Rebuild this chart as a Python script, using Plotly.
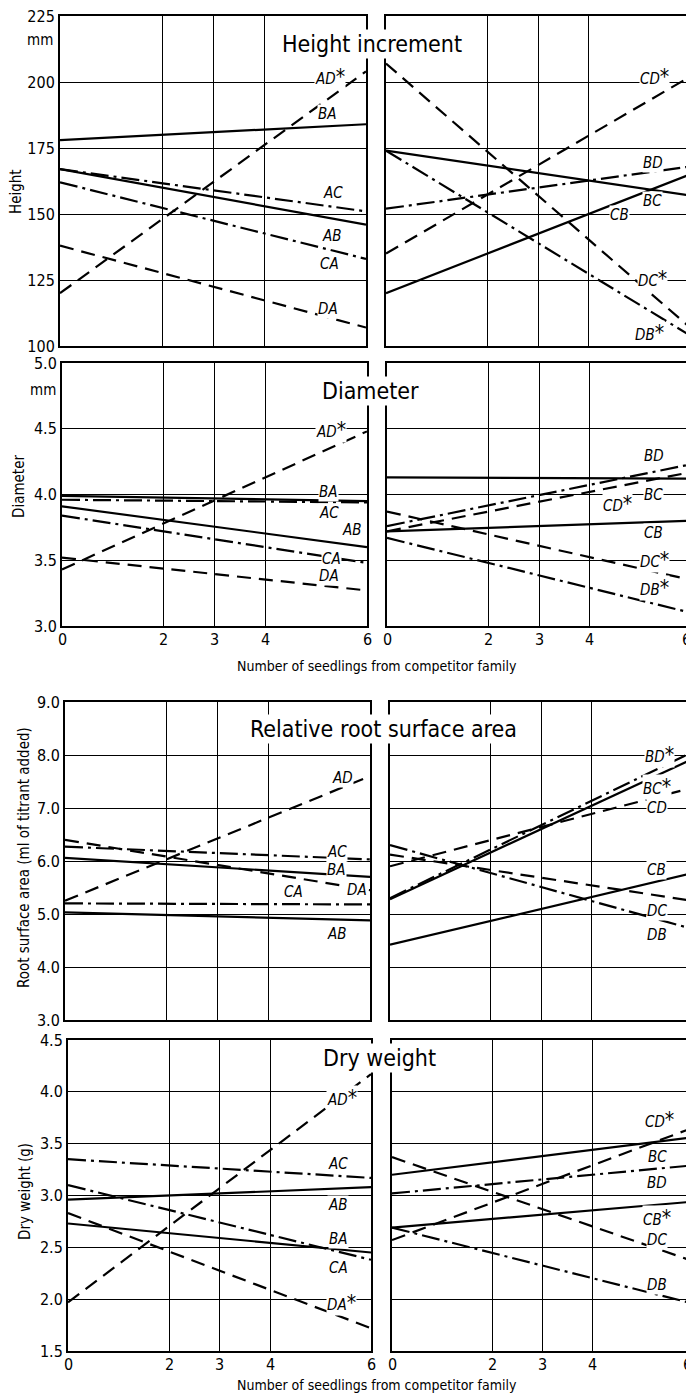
import plotly.graph_objects as go

# page window is 694x1399; the page body keeps an 8px margin, so the figure
# itself is drawn 8px in from the top-left corner
PAGE_W, PAGE_H, OFF = 694, 1399, 8
W, H = PAGE_W - OFF, PAGE_H - OFF
FONT = "Liberation Sans Narrow, DejaVu Sans Condensed, Arial Narrow, sans-serif"

# ---------------- data ----------------
x_counts = [0, 6]
x_tick_vals = [0, 2, 3, 4, 6]
x_tick_text = ["0", "2", "3", "4", "6"]

# Height increment (mm)
height_left_names = ["BA", "AD*", "AC", "AB", "CA", "DA"]
height_left_start = [178, 120, 167, 167, 162, 138]
height_left_end = [184, 204, 151, 146, 133, 107]
height_right_names = ["CD*", "BD", "BC", "CB", "DC*", "DB*"]
height_right_start = [135, 152, 174, 120, 207, 174]
height_right_end = [202, 168, 157, 165, 107, 104]

# Diameter (mm)
diam_left_names = ["AD*", "BA", "AC", "AB", "CA", "DA"]
diam_left_start = [3.43, 3.99, 3.96, 3.91, 3.84, 3.52]
diam_left_end = [4.48, 3.95, 3.94, 3.60, 3.48, 3.27]
diam_right_names = ["BD", "CD*", "BC", "CB", "DC*", "DB*"]
diam_right_start = [3.76, 3.72, 4.13, 3.72, 3.87, 3.67]
diam_right_end = [4.23, 4.17, 4.12, 3.80, 3.35, 3.10]

# Relative root surface area (ml of titrant added)
root_left_names = ["AD", "AC", "BA", "DA", "CA", "AB"]
root_left_start = [5.25, 6.27, 6.06, 6.40, 5.20, 5.03]
root_left_end = [7.60, 6.03, 5.70, 5.45, 5.18, 4.88]
root_right_names = ["BD*", "BC*", "CD", "CB", "DC", "DB"]
root_right_start = [5.30, 5.28, 5.90, 4.42, 6.12, 6.30]
root_right_end = [8.05, 7.92, 7.38, 5.77, 5.25, 4.72]

# Dry weight (g)
dry_left_names = ["AD*", "AC", "AB", "BA", "CA", "DA*"]
dry_left_start = [1.97, 3.35, 2.96, 2.73, 3.10, 2.83]
dry_left_end = [4.17, 3.17, 3.08, 2.45, 2.38, 1.72]
dry_right_names = ["CD*", "BC", "BD", "CB*", "DC", "DB"]
dry_right_start = [2.57, 3.20, 3.02, 2.69, 3.37, 2.69]
dry_right_end = [3.65, 3.56, 3.29, 2.94, 2.37, 1.96]

# tick labels
height_ticks = [100, 125, 150, 175, 200, 225]
diam_ticks = [3.0, 3.5, 4.0, 4.5, 5.0]
root_ticks = [3, 4, 5, 6, 7, 8, 9]
dry_ticks = [1.5, 2.0, 2.5, 3.0, 3.5, 4.0, 4.5]

# ---------------- label placement (x, y in data units) ----------------
height_left_label_xy = [(5.25, 188), (5.3, 202), (5.35, 158), (5.33, 141.5), (5.29, 131), (5.25, 114)]
height_right_label_xy = [(5.3, 202), (5.27, 169.5), (5.25, 155), (4.6, 149.5), (5.25, 125.5), (5.2, 105)]
diam_left_label_xy = [(5.3, 4.49), (5.25, 4.02), (5.25, 3.86), (5.7, 3.73), (5.3, 3.51), (5.25, 3.38)]
diam_right_label_xy = [(5.27, 4.29), (4.55, 3.93), (5.25, 4.0), (5.25, 3.71), (5.27, 3.5), (5.27, 3.29)]
root_left_label_xy = [(5.45, 7.57), (5.35, 6.17), (5.35, 5.83), (5.75, 5.45), (4.5, 5.42), (5.35, 4.62)]
root_right_label_xy = [(5.35, 8.0), (5.3, 7.4), (5.3, 7.0), (5.3, 5.83), (5.3, 5.05), (5.3, 4.6)]
dry_left_label_xy = [(5.42, 3.94), (5.35, 3.30), (5.35, 2.91), (5.35, 2.58), (5.35, 2.30), (5.42, 1.96)]
dry_right_label_xy = [(5.34, 3.73), (5.3, 3.37), (5.3, 3.12), (5.3, 2.78), (5.3, 2.57), (5.3, 2.14)]

panels = [
    (height_left_names, height_left_start, height_left_end, height_left_label_xy),
    (height_right_names, height_right_start, height_right_end, height_right_label_xy),
    (diam_left_names, diam_left_start, diam_left_end, diam_left_label_xy),
    (diam_right_names, diam_right_start, diam_right_end, diam_right_label_xy),
    (root_left_names, root_left_start, root_left_end, root_left_label_xy),
    (root_right_names, root_right_start, root_right_end, root_right_label_xy),
    (dry_left_names, dry_left_start, dry_left_end, dry_left_label_xy),
    (dry_right_names, dry_right_start, dry_right_end, dry_right_label_xy),
]

# panel frames in page pixels
rows = [
    dict(rng=[100, 225], ticks=height_ticks, fmt="{:.0f}", top=16, bottom=346,
         cols=[(60, 366), (386, 690)], xlabels=False),
    dict(rng=[3.0, 5.0], ticks=diam_ticks, fmt="{:.1f}", top=363, bottom=626,
         cols=[(62, 367), (387, 691)], xlabels=True),
    dict(rng=[3.0, 9.0], ticks=root_ticks, fmt="{:.1f}", top=702, bottom=1020,
         cols=[(65, 370), (390, 692)], xlabels=False),
    dict(rng=[1.5, 4.5], ticks=dry_ticks, fmt="{:.1f}", top=1040, bottom=1351,
         cols=[(68, 371), (392, 692)], xlabels=True),
]

DASH = {
    frozenset("AB"): "solid", frozenset("BC"): "solid",
    frozenset("AC"): "18px,5px,3px,5px", frozenset("BD"): "18px,5px,3px,5px",
    frozenset("AD"): "14px,8px", frozenset("CD"): "14px,8px",
}


def px_x(p):
    return (p - OFF) / W


def px_y(p):
    return 1 - (p - OFF) / H


fig = go.Figure()
layout = dict(width=W, height=H, margin=dict(l=0, r=0, t=0, b=0),
              paper_bgcolor="white", plot_bgcolor="white", showlegend=False,
              font=dict(family=FONT, color="black", size=16))
annotations = []

for i, (names, start, end, label_xy) in enumerate(panels):
    r, c = divmod(i, 2)
    row = rows[r]
    n = i + 1
    xa = "xaxis" if n == 1 else f"xaxis{n}"
    ya = "yaxis" if n == 1 else f"yaxis{n}"
    xr = "x" if n == 1 else f"x{n}"
    yr = "y" if n == 1 else f"y{n}"
    x0, x1 = row["cols"][c]
    layout[xa] = dict(
        domain=[px_x(x0), min(px_x(x1), 1.0)], anchor=yr, range=[0, 6],
        tickvals=x_tick_vals, ticktext=x_tick_text,
        showticklabels=False, ticks="",
        showgrid=True, gridcolor="black", gridwidth=1, zeroline=False,
        showline=True, mirror=True, linecolor="black", linewidth=2,
        automargin=False,
    )
    layout[ya] = dict(
        domain=[px_y(row["bottom"]), px_y(row["top"])], anchor=xr, range=row["rng"],
        tickvals=row["ticks"], ticktext=[row["fmt"].format(t) for t in row["ticks"]],
        showticklabels=(c == 0), ticks="", ticklabeloverflow="allow",
        showgrid=True, gridcolor="black", gridwidth=1, zeroline=False,
        showline=True, mirror=True, linecolor="black", linewidth=2,
        tickfont=dict(size=16, family=FONT), automargin=False,
    )
    if row["xlabels"]:
        for tv, tt in zip(x_tick_vals, x_tick_text):
            last = (c == 1 and tv == x_tick_vals[-1])
            annotations.append(dict(x=tv, y=px_y(row["bottom"] + 2), xref=xr, yref="paper",
                                    text=tt, showarrow=False,
                                    xanchor="right" if last else "center", yanchor="top",
                                    xshift=2 if last else 0,
                                    font=dict(size=16, family=FONT, color="black")))
    for name, s, e, (lx, ly) in zip(names, start, end, label_xy):
        code = name.replace("*", "")
        fig.add_trace(go.Scatter(
            x=x_counts, y=[s, e], mode="lines", xaxis=xr, yaxis=yr, name=name,
            line=dict(color="black", width=2.2, dash=DASH[frozenset(code)]),
            hoverinfo="name",
        ))
        txt = f"<i>{code}</i>"
        if name.endswith("*"):
            txt += "<span style='font-size:21px'>*</span>"
        annotations.append(dict(
            x=lx, y=ly, xref=xr, yref=yr, text=txt, showarrow=False,
            xanchor="center", yanchor="middle", bgcolor="white", borderpad=0,
            font=dict(size=15, family=FONT, color="black"),
        ))

# panel titles
for text, cx, cy in [("Height increment", 372, 44), ("Diameter", 370, 391),
                     ("Relative root surface area", 384, 729), ("Dry weight", 379, 1058)]:
    annotations.append(dict(x=px_x(cx), y=px_y(cy), xref="paper", yref="paper", text=text,
                            showarrow=False, xanchor="center", yanchor="middle",
                            bgcolor="white", borderpad=1,
                            font=dict(size=23, family=FONT, color="black")))

# unit labels
for cx, cy in [(40, 40), (43, 390)]:
    annotations.append(dict(x=px_x(cx), y=px_y(cy), xref="paper", yref="paper", text="mm",
                            showarrow=False, xanchor="center", yanchor="middle",
                            font=dict(size=15, family=FONT, color="black")))

# y-axis titles
for text, cx, cy in [("Height", 16, 192), ("Diameter", 19, 487),
                     ("Root surface area (ml of titrant added)", 24, 858),
                     ("Dry weight (g)", 25, 1192)]:
    annotations.append(dict(x=px_x(cx), y=px_y(cy), xref="paper", yref="paper", text=text,
                            showarrow=False, xanchor="center", yanchor="middle", textangle=-90,
                            font=dict(size=15, family=FONT, color="black")))

# x-axis titles
for cy in [666, 1385]:
    annotations.append(dict(x=px_x(377), y=px_y(cy), xref="paper", yref="paper",
                            text="Number of seedlings from competitor family",
                            showarrow=False, xanchor="center", yanchor="middle",
                            font=dict(size=14, family=FONT, color="black")))

layout["annotations"] = annotations
fig.update_layout(**layout)
fig.write_html("out.html")
